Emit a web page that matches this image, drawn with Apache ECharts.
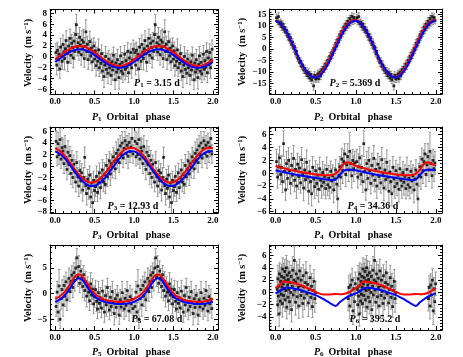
<!DOCTYPE html>
<html><head><meta charset="utf-8">
<script src="https://cdn.jsdelivr.net/npm/echarts@6/dist/echarts.min.js"></script>
<style>html,body{margin:0;padding:0;background:#fff}#c{width:463px;height:357px}</style>
</head><body><div id="c"></div>
<script>
// ---------- DATA ----------
const PHASE_TICKS = [0, 0.5, 1, 1.5, 2];
const CURVE_PHASE = [0,0.05,0.1,0.15,0.2,0.25,0.3,0.35,0.4,0.45,0.5,0.55,0.6,0.65,0.7,0.75,0.8,0.85,0.9,0.95,1];

const P1_RED  = [-0.50,0.05,0.63,1.15,1.58,1.87,1.99,1.94,1.71,1.34,0.84,0.29,-0.29,-0.81,-1.24,-1.53,-1.66,-1.60,-1.37,-1.00,-0.50];
const P1_BLUE = [-0.93,-0.41,0.12,0.61,1.01,1.28,1.40,1.35,1.13,0.78,0.33,-0.19,-0.72,-1.21,-1.61,-1.88,-2.00,-1.95,-1.73,-1.38,-0.93];
const P2_RED  = [12.5,11.42,9.24,6.17,2.52,-1.35,-5.08,-8.29,-10.66,-11.98,-12.10,-11.02,-8.84,-5.77,-2.12,1.75,5.48,8.69,11.06,12.38,12.5];
const P2_BLUE = [12.18,11.34,9.37,6.49,2.96,-0.87,-4.63,-7.94,-10.48,-12.02,-12.38,-11.54,-9.57,-6.69,-3.16,0.67,4.43,7.74,10.28,11.82,12.18];
const P3_RED  = [3.11,2.72,2.09,1.27,0.34,-0.61,-1.48,-2.20,-2.69,-2.89,-2.81,-2.42,-1.79,-0.97,-0.04,0.91,1.78,2.50,2.99,3.19,3.11];
const P3_BLUE = [2.55,2.22,1.64,0.85,-0.07,-1.02,-1.92,-2.67,-3.21,-3.48,-3.45,-3.12,-2.54,-1.75,-0.83,0.12,1.02,1.77,2.31,2.58,2.55];
const P4_RED  = [1.15,0.95,0.78,0.62,0.48,0.35,0.22,0.10,0.0,-0.10,-0.18,-0.25,-0.30,-0.32,-0.28,-0.05,0.55,1.45,1.70,1.45,1.15];
const P4_BLUE = [0.45,0.30,0.15,0.02,-0.10,-0.22,-0.33,-0.43,-0.53,-0.62,-0.72,-0.82,-0.92,-1.02,-1.08,-0.95,-0.30,0.40,0.55,0.52,0.45];
const P5_RED  = [-1.0,-0.6,0.0,0.9,2.1,3.3,3.8,3.3,2.2,1.0,0.0,-0.6,-1.0,-1.3,-1.45,-1.55,-1.6,-1.6,-1.5,-1.3,-1.0];
const P5_BLUE = [-1.6,-1.2,-0.7,0.2,1.3,2.5,3.0,2.6,1.5,0.4,-0.5,-1.1,-1.45,-1.7,-1.85,-1.95,-2.0,-2.0,-1.95,-1.8,-1.6];
const P6_RED  = [0.7,1.2,1.8,1.7,1.6,1.45,1.25,1.0,0.7,0.4,0.05,-0.2,-0.35,-0.35,-0.3,-0.25,-0.3,-0.25,-0.05,0.3,0.7];
const P6_BLUE = [-0.15,0.2,0.6,0.8,0.7,0.55,0.4,0.2,0.0,-0.2,-0.45,-0.75,-1.1,-1.5,-1.9,-2.2,-1.6,-1.1,-0.7,-0.4,-0.15];

// points: [phase, velocity, error]  (phase 0-1, shown again at phase+1)
const P1_PTS = [[0.01,0.8,1.6],[0.02,-1.5,1.8],[0.03,1.2,1.5],[0.04,-0.5,2.0],[0.05,0.5,1.4],[0.06,-2.2,1.7],[0.07,1.8,1.6],[0.08,0.2,1.9],[0.09,-0.8,1.5],[0.10,2.3,1.7],[0.11,0.9,1.4],[0.12,-0.3,2.1],[0.13,1.5,1.6],[0.14,3.0,1.8],[0.15,0.6,1.5],[0.16,-1.0,1.7],[0.17,2.0,1.6],[0.18,1.2,2.2],[0.19,3.4,1.7],[0.20,0.3,1.5],[0.21,2.5,1.6],[0.22,1.7,1.9],[0.23,-0.2,1.8],[0.24,2.9,1.6],[0.25,1.0,1.5],[0.26,4.1,2.0],[0.27,5.9,1.9],[0.28,1.8,1.6],[0.29,2.6,1.7],[0.30,0.9,1.5],[0.31,3.6,1.8],[0.32,2.2,1.6],[0.33,0.4,1.9],[0.34,3.1,1.7],[0.35,1.5,1.5],[0.36,2.7,2.4],[0.37,-0.3,1.6],[0.38,1.9,1.7],[0.39,4.6,2.2],[0.40,1.0,1.6],[0.41,2.3,1.5],[0.42,-0.5,1.8],[0.43,1.4,1.6],[0.44,2.8,1.9],[0.45,0.2,1.5],[0.46,1.6,1.7],[0.47,-0.9,1.6],[0.48,0.9,1.8],[0.49,2.0,1.5],[0.50,-0.4,1.7],[0.51,1.1,1.6],[0.52,-1.6,1.9],[0.53,0.3,1.5],[0.54,-0.8,1.7],[0.55,1.3,2.0],[0.56,-2.0,1.6],[0.57,-0.2,1.5],[0.58,-1.2,1.8],[0.59,0.6,1.6],[0.60,-2.6,1.7],[0.61,-0.7,1.5],[0.62,-3.6,2.0],[0.63,-1.5,1.6],[0.64,0.1,1.8],[0.65,-2.3,1.5],[0.66,-1.0,1.7],[0.67,-3.0,1.9],[0.68,-0.4,1.6],[0.69,-2.0,1.5],[0.70,-1.3,1.8],[0.71,-3.4,1.7],[0.72,-0.9,1.6],[0.73,-2.4,1.9],[0.74,0.3,1.5],[0.75,-1.7,1.6],[0.76,-4.2,1.8],[0.77,-1.1,1.7],[0.78,-2.8,1.5],[0.79,-0.5,1.9],[0.80,-2.2,1.6],[0.81,-3.8,2.1],[0.82,-1.4,1.6],[0.83,0.2,1.7],[0.84,-2.6,1.5],[0.85,-1.0,1.8],[0.86,-3.1,1.6],[0.87,-1.8,1.7],[0.88,0.5,1.6],[0.89,-2.3,1.9],[0.90,-0.7,1.5],[0.91,-1.9,1.7],[0.92,1.0,1.6],[0.93,-2.9,1.8],[0.94,-0.2,1.5],[0.95,-1.4,1.7],[0.96,0.8,1.6],[0.97,-2.0,1.9],[0.98,-0.6,1.5],[0.99,1.4,1.7]];
const P2_PTS = [[0.0125,13.5,1.6],[0.025,11.8,1.4],[0.0375,14.0,1.7],[0.05,10.9,1.5],[0.0625,11.6,1.4],[0.075,9.6,1.6],[0.0875,10.8,1.5],[0.1,8.5,1.4],[0.1125,9.3,1.7],[0.125,7.2,1.5],[0.1375,8.1,1.4],[0.15,5.4,1.6],[0.1625,6.3,1.5],[0.175,3.8,1.4],[0.1875,4.9,1.6],[0.2,1.9,1.5],[0.2125,3.0,1.4],[0.225,0.2,1.7],[0.2375,1.0,1.5],[0.25,-2.1,1.4],[0.2625,-1.0,1.6],[0.275,-3.9,1.5],[0.2875,-4.3,1.4],[0.3,-5.9,1.6],[0.3125,-5.3,1.5],[0.325,-7.6,1.4],[0.3375,-6.9,1.7],[0.35,-9.1,1.5],[0.3625,-8.4,1.4],[0.375,-10.3,1.6],[0.3875,-9.6,1.5],[0.4,-11.5,1.4],[0.4125,-10.2,1.6],[0.425,-12.6,1.5],[0.4375,-11.0,1.4],[0.45,-13.4,1.7],[0.4625,-12.2,1.5],[0.475,-16.0,1.8],[0.4875,-11.4,1.6],[0.5,-13.0,1.5],[0.5125,-12.5,1.4],[0.525,-10.8,1.6],[0.5375,-12.9,1.5],[0.55,-10.1,1.4],[0.5625,-11.7,1.6],[0.575,-9.0,1.5],[0.5875,-9.8,1.4],[0.6,-7.9,1.7],[0.6125,-8.7,1.5],[0.625,-6.5,1.4],[0.6375,-7.3,1.6],[0.65,-4.9,1.5],[0.6625,-5.8,1.4],[0.675,-3.2,1.6],[0.6875,-4.1,1.5],[0.7,-1.6,1.4],[0.7125,-2.4,1.7],[0.725,0.3,1.5],[0.7375,-0.5,1.4],[0.75,2.5,1.6],[0.7625,1.2,1.5],[0.775,4.1,1.4],[0.7875,3.0,1.6],[0.8,6.2,1.5],[0.8125,5.0,1.4],[0.825,7.6,1.7],[0.8375,6.8,1.5],[0.85,9.5,1.4],[0.8625,8.2,1.6],[0.875,10.8,1.5],[0.8875,9.4,1.4],[0.9,12.0,1.6],[0.9125,10.5,1.5],[0.925,13.2,1.4],[0.9375,11.6,1.7],[0.95,14.1,1.5],[0.9625,12.0,1.4],[0.975,13.6,1.6],[0.9875,12.4,1.5]];
const P3_PTS = [[0.0125,4.3,1.8],[0.025,1.6,1.6],[0.0375,3.9,2.0],[0.05,2.0,1.7],[0.0625,4.6,1.9],[0.075,1.2,1.6],[0.0875,3.2,1.8],[0.1,2.6,2.1],[0.1125,0.4,1.7],[0.125,3.4,1.9],[0.1375,1.5,1.6],[0.15,-0.6,1.8],[0.1625,2.4,2.0],[0.175,0.2,1.7],[0.1875,1.8,1.6],[0.2,-1.3,1.9],[0.2125,1.0,1.7],[0.225,-2.0,1.8],[0.2375,0.3,1.6],[0.25,-0.9,2.0],[0.2625,-2.8,1.7],[0.275,0.6,1.9],[0.2875,-1.9,1.6],[0.3,-3.5,1.8],[0.3125,-0.8,1.7],[0.325,-2.6,2.1],[0.3375,-1.2,1.6],[0.35,-4.2,1.9],[0.3625,-2.0,1.7],[0.375,1.5,1.8],[0.3875,-3.4,1.6],[0.4,-4.8,2.0],[0.4125,-2.3,1.7],[0.425,-3.9,1.9],[0.4375,-1.6,1.6],[0.45,-5.4,1.8],[0.4625,-3.0,1.7],[0.475,-6.4,2.0],[0.4875,-2.5,1.6],[0.5,-4.3,1.9],[0.5125,-3.6,1.7],[0.525,-1.8,1.8],[0.5375,-4.6,1.6],[0.55,-2.9,2.0],[0.5625,-1.2,1.7],[0.575,-3.8,1.9],[0.5875,-2.1,1.6],[0.6,-0.7,1.8],[0.6125,-2.8,1.7],[0.625,-1.5,2.1],[0.6375,-3.2,1.6],[0.65,0.1,1.9],[0.6625,-1.9,1.7],[0.675,-0.6,1.8],[0.6875,0.9,1.6],[0.7,-1.4,2.0],[0.7125,0.4,1.7],[0.725,-0.2,1.9],[0.7375,1.6,1.6],[0.75,0.8,1.8],[0.7625,-0.5,1.7],[0.775,2.2,2.0],[0.7875,1.1,1.6],[0.8,2.8,1.9],[0.8125,0.6,1.7],[0.825,3.5,1.8],[0.8375,2.0,1.6],[0.85,4.0,2.0],[0.8625,1.4,1.7],[0.875,3.1,1.9],[0.8875,4.4,1.6],[0.9,2.2,1.8],[0.9125,3.6,1.7],[0.925,1.7,2.1],[0.9375,4.1,1.6],[0.95,2.5,1.9],[0.9625,3.3,1.7],[0.975,4.8,1.8],[0.9875,2.1,1.6]];
const P4_PTS = [[0.0125,1.8,1.9],[0.025,-0.6,1.7],[0.0375,1.0,2.0],[0.05,2.4,1.8],[0.0625,-0.2,1.6],[0.075,0.9,1.9],[0.0875,-1.3,1.7],[0.1,4.6,2.0],[0.1125,0.3,1.8],[0.125,-2.6,1.6],[0.1375,1.5,1.9],[0.15,-0.8,1.7],[0.1625,2.0,2.0],[0.175,0.4,1.8],[0.1875,-1.6,1.6],[0.2,1.2,1.9],[0.2125,-0.3,1.7],[0.225,2.3,2.0],[0.2375,-1.1,1.8],[0.25,0.6,1.6],[0.2625,-2.0,1.9],[0.275,1.4,1.7],[0.2875,-0.5,2.0],[0.3,0.8,1.8],[0.3125,-1.5,1.6],[0.325,2.1,1.9],[0.3375,-0.2,1.7],[0.35,-2.3,2.0],[0.3625,0.5,1.8],[0.375,-1.0,1.6],[0.3875,1.7,1.9],[0.4,-0.6,1.7],[0.4125,-2.8,2.0],[0.425,0.2,1.8],[0.4375,-1.3,1.6],[0.45,-3.2,1.9],[0.4625,0.9,1.7],[0.475,-0.9,2.0],[0.4875,-2.1,1.8],[0.5,0.4,1.6],[0.5125,-1.6,1.9],[0.525,-0.3,1.7],[0.5375,-2.5,2.0],[0.55,0.7,1.8],[0.5625,-1.1,1.6],[0.575,-2.0,1.9],[0.5875,0.1,1.7],[0.6,-1.4,2.0],[0.6125,-0.5,1.8],[0.625,-2.4,1.6],[0.6375,0.6,1.9],[0.65,-1.8,1.7],[0.6625,-0.8,2.0],[0.675,-2.2,1.8],[0.6875,0.3,1.6],[0.7,-1.2,1.9],[0.7125,-0.4,1.7],[0.725,-2.6,2.0],[0.7375,-0.9,1.8],[0.75,0.5,1.6],[0.7625,-1.7,1.9],[0.775,-4.0,2.1],[0.7875,-0.3,1.8],[0.8,1.0,1.6],[0.8125,-0.6,1.9],[0.825,2.2,1.7],[0.8375,0.4,2.0],[0.85,1.8,1.8],[0.8625,3.0,1.6],[0.875,-0.2,1.9],[0.8875,1.3,1.7],[0.9,2.6,2.0],[0.9125,0.5,1.8],[0.925,3.4,3.0],[0.9375,1.5,1.6],[0.95,-0.4,1.9],[0.9625,2.0,1.7],[0.975,0.7,2.0],[0.9875,1.6,1.8]];
const P5_PTS = [[0.0125,-2.5,1.9],[0.025,0.3,2.1],[0.0375,-3.6,1.8],[0.05,1.5,3.2],[0.0625,-5.0,1.8],[0.075,-1.0,2.0],[0.0875,0.8,1.9],[0.1,-2.2,2.2],[0.1125,1.6,1.8],[0.125,-0.5,2.0],[0.1375,2.3,1.9],[0.15,-1.2,2.1],[0.1625,1.0,1.8],[0.175,3.0,2.0],[0.1875,0.4,1.9],[0.2,2.4,2.2],[0.2125,3.6,1.8],[0.225,1.2,2.0],[0.2375,4.1,1.9],[0.25,2.6,2.1],[0.2625,5.0,1.8],[0.275,7.0,1.8],[0.2875,3.3,1.9],[0.3,5.3,2.1],[0.3125,2.0,1.8],[0.325,4.4,2.0],[0.3375,3.0,1.9],[0.35,1.4,2.2],[0.3625,3.7,1.8],[0.375,0.6,2.0],[0.3875,2.4,1.9],[0.4,-0.5,2.1],[0.4125,1.5,1.8],[0.425,0.3,2.0],[0.4375,-1.4,1.9],[0.45,1.9,2.2],[0.4625,-0.3,1.8],[0.475,0.9,2.0],[0.4875,-2.0,1.9],[0.5,-0.6,2.1],[0.5125,0.8,1.8],[0.525,-1.5,2.0],[0.5375,-3.0,1.9],[0.55,0.2,2.2],[0.5625,-1.9,1.8],[0.575,-0.8,2.0],[0.5875,-2.8,1.9],[0.6,0.5,2.1],[0.6125,-1.3,1.8],[0.625,-3.6,2.0],[0.6375,-0.4,1.9],[0.65,-2.2,2.2],[0.6625,1.2,1.8],[0.675,-1.6,2.0],[0.6875,-3.2,1.9],[0.7,-0.7,2.1],[0.7125,-2.5,1.8],[0.725,0.4,2.0],[0.7375,-1.8,1.9],[0.75,-3.9,2.2],[0.7625,-1.0,1.8],[0.775,-2.7,2.0],[0.7875,-0.3,1.9],[0.8,-1.9,2.1],[0.8125,-4.2,1.8],[0.825,-1.2,2.0],[0.8375,-2.6,1.9],[0.85,0.2,2.2],[0.8625,-1.7,1.8],[0.875,-3.0,2.0],[0.8875,-0.9,1.9],[0.9,-2.3,2.1],[0.9125,0.6,1.8],[0.925,-1.4,2.0],[0.9375,-3.4,1.9],[0.95,-0.6,2.2],[0.9625,-2.0,1.8],[0.975,-1.1,2.0],[0.9875,-2.9,1.9]];
const P6_PTS = [[0.02,0.5,2.0],[0.025,-2.0,1.8],[0.03,2.2,2.2],[0.035,-0.6,1.9],[0.04,1.0,2.4],[0.045,-3.5,2.0],[0.05,3.0,1.8],[0.055,0.2,2.1],[0.06,-1.4,1.9],[0.065,1.8,2.3],[0.07,-0.3,1.8],[0.075,2.6,2.0],[0.08,0.9,1.9],[0.085,-1.8,2.2],[0.09,3.8,1.8],[0.095,1.4,2.0],[0.1,-0.5,1.9],[0.105,2.4,2.3],[0.11,0.6,1.8],[0.115,3.4,2.0],[0.12,-1.2,1.9],[0.125,1.9,2.2],[0.13,0.3,1.8],[0.135,4.0,2.0],[0.14,-2.4,1.9],[0.145,2.8,2.4],[0.15,1.2,1.8],[0.155,-0.8,2.0],[0.16,2.1,1.9],[0.165,0.5,2.2],[0.17,3.2,1.8],[0.175,-1.5,2.0],[0.18,1.6,1.9],[0.19,0.0,2.3],[0.195,2.6,1.8],[0.2,-2.8,2.0],[0.21,1.0,1.9],[0.215,3.6,2.2],[0.22,-0.4,1.8],[0.23,2.0,2.0],[0.235,5.2,2.2],[0.24,0.4,1.9],[0.25,-1.6,2.1],[0.255,1.7,1.8],[0.26,3.0,2.0],[0.27,-0.7,1.9],[0.28,2.3,2.2],[0.285,0.8,1.8],[0.29,-2.2,2.0],[0.3,3.5,1.9],[0.31,1.1,2.3],[0.315,-0.5,1.8],[0.32,2.0,2.0],[0.33,0.2,1.9],[0.34,-1.8,2.2],[0.345,2.7,1.8],[0.35,0.9,2.0],[0.36,-0.9,1.9],[0.37,1.6,2.1],[0.38,3.2,1.8],[0.39,-0.2,2.0],[0.4,1.3,1.9],[0.41,-1.7,2.2],[0.42,0.5,1.8],[0.43,2.4,2.0],[0.44,-0.8,1.9],[0.45,1.0,2.1],[0.46,-2.3,1.8],[0.47,0.3,2.0],[0.48,1.8,1.9],[0.49,-1.0,2.2],[0.5,0.0,1.8],[0.905,-1.0,2.0],[0.915,0.8,1.9],[0.925,-2.2,2.1],[0.935,1.2,1.8],[0.945,-0.4,2.0],[0.955,2.0,1.9],[0.965,-3.0,2.2],[0.975,0.6,1.8],[0.985,-1.5,2.0],[0.995,1.4,1.9]];

const Y_TICKS = [[-6,-4,-2,0,2,4,6,8],[-15,-10,-5,0,5,10,15],[-8,-6,-4,-2,0,2,4,6],[-6,-4,-2,0,2,4,6],[-5,0,5],[-4,-2,0,2,4,6]];
const PERIOD_LABELS = ['3.15 d','5.369 d','12.93 d','34.36 d','67.08 d','395.2 d'];
const PANEL_INDEX = ['1','2','3','4','5','6'];

// ---------- LAYOUT / STYLE ----------
const FONT = 'Liberation Serif';
const LAYOUT = [
  {left:50, top:9.5, width:168, height:85, xr:[-0.065,2.065], yr:[-6.9,8.7], ym:0.5, xt:[131,117], yt:[28,53], an:[157,83]},
  {left:269.5, top:9, width:172.5, height:85, xr:[-0.075,2.075], yr:[-19.5,17.3], ym:1, xt:[353,117], yt:[242,52], an:[355,83]},
  {left:50, top:127, width:168, height:86, xr:[-0.065,2.065], yr:[-8.2,6.8], ym:0.5, xt:[131,235], yt:[28,170], an:[133,206]},
  {left:269.5, top:127, width:172.5, height:86, xr:[-0.075,2.075], yr:[-6.2,7.2], ym:0.5, xt:[353,235], yt:[242,170], an:[373,206]},
  {left:50, top:245, width:168, height:85, xr:[-0.065,2.065], yr:[-7.1,9.5], ym:1, xt:[131,352], yt:[28,288], an:[157,319]},
  {left:269.5, top:245, width:172.5, height:85, xr:[-0.075,2.075], yr:[-6.1,7.7], ym:0.5, xt:[353,352], yt:[242,288], an:[375,319]}
];
const PTS = [P1_PTS,P2_PTS,P3_PTS,P4_PTS,P5_PTS,P6_PTS];
const REDS = [P1_RED,P2_RED,P3_RED,P4_RED,P5_RED,P6_RED];
const BLUES = [P1_BLUE,P2_BLUE,P3_BLUE,P4_BLUE,P5_BLUE,P6_BLUE];

function minorTicks(lo, hi, step){
  const out=[]; const s=Math.ceil(lo/step-1e-9);
  for(let k=s; k*step<=hi+1e-9; k++) out.push(+(k*step).toFixed(4));
  return out;
}
function twoCycles(pts){ return pts.concat(pts.map(p=>[p[0]+1,p[1],p[2]])); }
function curveData(vals){
  const a = CURVE_PHASE.map((ph,i)=>[ph, vals[i]]);
  const b = CURVE_PHASE.slice(1).map((ph,i)=>[ph+1, vals[i+1]]);
  return a.concat(b);
}
const fmtY = v => v<0 ? '\u2212'+Math.abs(v) : String(v);

function errRender(params, api){
  const x=api.value(0), y=api.value(1), e=api.value(2);
  const a=api.coord([x,y+e]), b=api.coord([x,y-e]);
  const st={stroke:'#8c8c8c', lineWidth:0.9};
  const cs=params.coordSys;
  return {type:'group', children:[
    {type:'line', shape:{x1:a[0],y1:a[1],x2:b[0],y2:b[1]}, style:st},
    {type:'line', shape:{x1:a[0]-1.2,y1:a[1],x2:a[0]+1.2,y2:a[1]}, style:st},
    {type:'line', shape:{x1:b[0]-1.2,y1:b[1],x2:b[0]+1.2,y2:b[1]}, style:st}
  ], clipPath:{type:'rect', shape:{x:cs.x,y:cs.y,width:cs.width,height:cs.height}}};
}

const grids=[], xAxes=[], yAxes=[], series=[], graphics=[];
const lineSt={color:'#000', width:1};
const labSt={fontFamily:FONT, fontWeight:'bold', fontSize:9, color:'#000'};
LAYOUT.forEach((L,i)=>{
  grids.push({left:L.left, top:L.top, width:L.width, height:L.height});
  const xi=xAxes.length, yi=yAxes.length;
  const xMin=minorTicks(L.xr[0],L.xr[1],0.1);
  const yMin=minorTicks(L.yr[0],L.yr[1],L.ym);
  const baseX={gridIndex:i, type:'value', min:L.xr[0], max:L.xr[1], splitLine:{show:false}};
  const baseY={gridIndex:i, type:'value', min:L.yr[0], max:L.yr[1], splitLine:{show:false}};
  xAxes.push(
    Object.assign({}, baseX, {position:'bottom', axisLine:{show:true,onZero:false,lineStyle:lineSt},
      axisTick:{show:true,inside:true,length:4,customValues:PHASE_TICKS,lineStyle:lineSt},
      axisLabel:Object.assign({show:true,customValues:PHASE_TICKS,formatter:v=>v.toFixed(1),margin:3},labSt)}),
    Object.assign({}, baseX, {position:'bottom', axisLine:{show:false,onZero:false},
      axisTick:{show:true,inside:true,length:2,customValues:xMin,lineStyle:lineSt}, axisLabel:{show:false}}),
    Object.assign({}, baseX, {position:'top', axisLine:{show:true,onZero:false,lineStyle:lineSt},
      axisTick:{show:true,inside:true,length:4,customValues:PHASE_TICKS,lineStyle:lineSt}, axisLabel:{show:false}}),
    Object.assign({}, baseX, {position:'top', axisLine:{show:false,onZero:false},
      axisTick:{show:true,inside:true,length:2,customValues:xMin,lineStyle:lineSt}, axisLabel:{show:false}})
  );
  yAxes.push(
    Object.assign({}, baseY, {position:'left', axisLine:{show:true,onZero:false,lineStyle:lineSt},
      axisTick:{show:true,inside:true,length:4,customValues:Y_TICKS[i],lineStyle:lineSt},
      axisLabel:Object.assign({show:true,customValues:Y_TICKS[i],formatter:fmtY,margin:3},labSt)}),
    Object.assign({}, baseY, {position:'left', axisLine:{show:false,onZero:false},
      axisTick:{show:true,inside:true,length:2,customValues:yMin,lineStyle:lineSt}, axisLabel:{show:false}}),
    Object.assign({}, baseY, {position:'right', axisLine:{show:true,onZero:false,lineStyle:lineSt},
      axisTick:{show:true,inside:true,length:4,customValues:Y_TICKS[i],lineStyle:lineSt}, axisLabel:{show:false}}),
    Object.assign({}, baseY, {position:'right', axisLine:{show:false,onZero:false},
      axisTick:{show:true,inside:true,length:2,customValues:yMin,lineStyle:lineSt}, axisLabel:{show:false}})
  );
  const full=twoCycles(PTS[i]);
  series.push({type:'custom', xAxisIndex:xi, yAxisIndex:yi, data:full, renderItem:errRender, silent:true, z:1});
  series.push({type:'scatter', xAxisIndex:xi, yAxisIndex:yi, data:full.map(d=>[d[0],d[1]]), symbol:'rect', symbolSize:2.8,
    itemStyle:{color:'#000'}, silent:true, z:2, clip:true});
  series.push({type:'line', xAxisIndex:xi, yAxisIndex:yi, data:curveData(REDS[i]), smooth:0.35, symbol:'none',
    lineStyle:{color:'#ff0000', width:2}, silent:true, z:3, clip:true});
  series.push({type:'line', xAxisIndex:xi, yAxisIndex:yi, data:curveData(BLUES[i]), smooth:0.35, symbol:'none',
    lineStyle:{color:'#0000ff', width:2}, silent:true, z:4, clip:true});

  const rich={
    i:{fontFamily:FONT, fontStyle:'italic', fontWeight:'bold', fontSize:10, lineHeight:11, fill:'#000'},
    s:{fontFamily:FONT, fontWeight:'bold', fontSize:7, lineHeight:11, verticalAlign:'bottom', fill:'#000'},
    b:{fontFamily:FONT, fontWeight:'bold', fontSize:10, lineHeight:11, fill:'#000'},
    u:{fontFamily:FONT, fontWeight:'bold', fontSize:7, lineHeight:11, verticalAlign:'top', fill:'#000'}
  };
  graphics.push({type:'text', x:L.xt[0], y:L.xt[1], z:10, style:{
    text:'{i|P}{s|'+PANEL_INDEX[i]+'}{b|  Orbital   phase}', rich, align:'center', verticalAlign:'middle'}});
  graphics.push({type:'text', x:L.yt[0], y:L.yt[1], rotation:Math.PI/2, z:10, style:{
    text:'{b|Velocity  (m s}{u|\u22121}{b|)}', rich, align:'center', verticalAlign:'middle'}});
  graphics.push({type:'text', x:L.an[0], y:L.an[1], z:10, style:{
    text:'{i|P}{s|'+PANEL_INDEX[i]+'}{b| = '+PERIOD_LABELS[i]+'}', rich, align:'center', verticalAlign:'middle'}});
});

const chart=echarts.init(document.getElementById('c'), null, {renderer:'canvas'});
chart.setOption({animation:false, backgroundColor:'#fff', grid:grids, xAxis:xAxes, yAxis:yAxes, series, graphic:graphics});
</script></body></html>
